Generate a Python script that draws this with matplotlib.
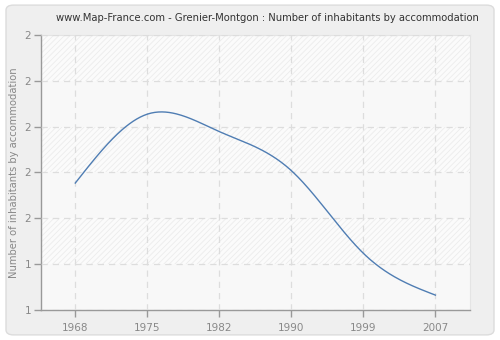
import numpy as np
import matplotlib
matplotlib.use('Agg')
import matplotlib.pyplot as plt
from matplotlib.patches import FancyBboxPatch

plt.rcParams['hatch.linewidth'] = 0.6

years = ['1968', '1975', '1982', '1990', '1999', '2007']
values = [1.577, 1.727, 1.689, 1.604, 1.424, 1.333]
y_ticks = [1.3, 1.4, 1.5, 1.6, 1.7, 1.8, 1.9]
y_labels = ['1', '1', '2', '2', '2', '2', '2']
title = 'www.Map-France.com - Grenier-Montgon : Number of inhabitants by accommodation'
y_title = 'Number of inhabitants by accommodation'


def naturalSpline(x, y, n=300):
    x = np.asarray(x, float)
    y = np.asarray(y, float)
    k = len(x)
    h = np.diff(x)
    a = np.zeros((k, k))
    b = np.zeros(k)
    a[0, 0] = a[-1, -1] = 1.0
    for i in range(1, k - 1):
        a[i, i - 1] = h[i - 1]
        a[i, i] = 2 * (h[i - 1] + h[i])
        a[i, i + 1] = h[i]
        b[i] = 3 * ((y[i + 1] - y[i]) / h[i] - (y[i] - y[i - 1]) / h[i - 1])
    c = np.linalg.solve(a, b)
    xs = np.linspace(x[0], x[-1], n)
    ys = np.zeros(n)
    for j, xv in enumerate(xs):
        i = min(np.searchsorted(x, xv, side='right') - 1, k - 2)
        dx = xv - x[i]
        bb = (y[i + 1] - y[i]) / h[i] - h[i] * (2 * c[i] + c[i + 1]) / 3
        d = (c[i + 1] - c[i]) / (3 * h[i])
        ys[j] = y[i] + bb * dx + c[i] * dx**2 + d * dx**3
    return xs, ys


fig = plt.figure(figsize=(5, 3.4), dpi=100, facecolor='white')
fig.patches.append(FancyBboxPatch((0.012, 0.015), 0.976, 0.97,
                                  boxstyle='round,pad=0,rounding_size=0.015',
                                  transform=fig.transFigure, facecolor='#efefef',
                                  edgecolor='#dcdcdc', linewidth=1, zorder=-10))

ax = fig.add_axes([0.0814, 0.0874, 0.8586, 0.8106])
ax.set_facecolor('#f9f9f9')
pos = np.arange(len(years))
ax.set_xlim(-0.48, len(years) - 0.52)
ax.set_ylim(y_ticks[0], y_ticks[-1])

# alternating hatched bands
for i in range(len(y_ticks) - 1):
    if (len(y_ticks) - 2 - i) % 2 == 0:
        ax.axhspan(y_ticks[i], y_ticks[i + 1], facecolor='#fbfbfb',
                   edgecolor='#ececec', hatch='//////', linewidth=0, zorder=0)
    else:
        ax.axhspan(y_ticks[i], y_ticks[i + 1], facecolor='#f8f8f8',
                   linewidth=0, zorder=0)

xs, ys = naturalSpline(pos, values)
ax.plot(xs, ys, color='#4f7db3', linewidth=1.0, zorder=3)

ax.set_xticks(pos)
ax.set_xticklabels(years)
ax.set_yticks(y_ticks)
ax.set_yticklabels(y_labels)
ax.grid(True, color='#dddddd', linestyle=(0, (5, 4)), linewidth=0.9, zorder=1)
ax.set_axisbelow(False)
for gl in ax.get_xgridlines() + ax.get_ygridlines():
    gl.set_zorder(1)

for s in ['left', 'bottom']:
    ax.spines[s].set_color('#999999')
    ax.spines[s].set_linewidth(1.0)
for s in ['top', 'right']:
    ax.spines[s].set_color('#e4e4e4')
    ax.spines[s].set_linewidth(0.8)
ax.tick_params(axis='both', colors='#999999', labelcolor='#888888',
               labelsize=7.5, length=5, width=1)
ax.tick_params(axis='x', pad=4)
ax.tick_params(axis='y', pad=2)

fig.text(0.534, 0.948, title, ha='center', va='center', fontsize=7.2, color='#333333')
ax.set_ylabel(y_title, fontsize=7.2, color='#888888', labelpad=4)

fig.savefig('out.png', dpi=100, facecolor=fig.get_facecolor())
